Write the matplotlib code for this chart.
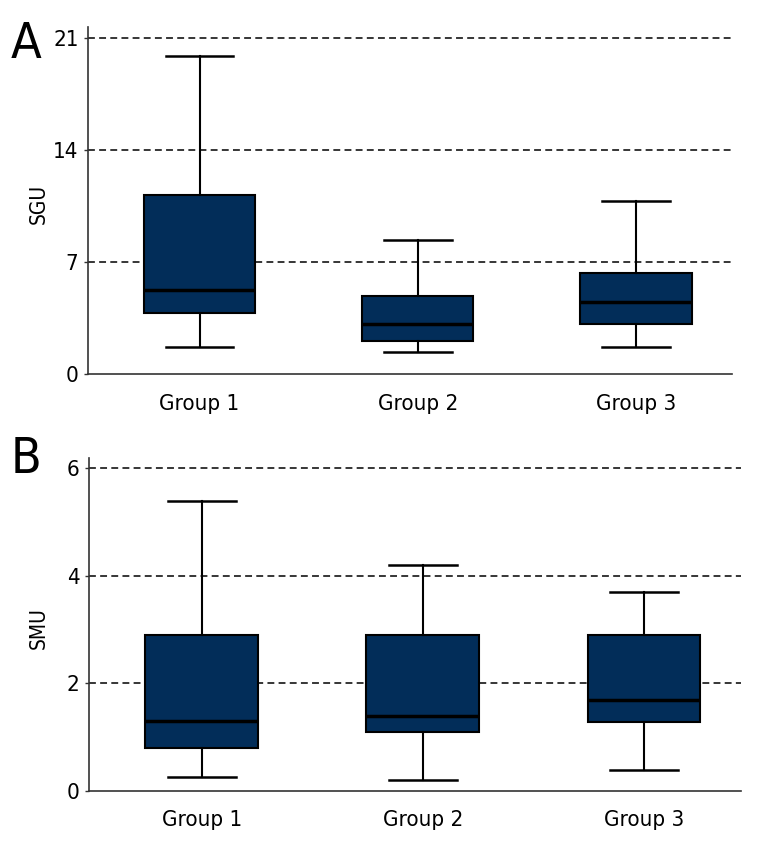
import matplotlib.pyplot as plt

plt.rcParams['font.family'] = ['DejaVu Sans']
plt.rcParams['font.stretch'] = 'condensed'

groups = ['Group 1', 'Group 2', 'Group 3']

# panel A (SGU): whisker low, Q1, median, Q3, whisker high
sgu_low = [1.7, 1.4, 1.7]
sgu_q1 = [3.8, 2.05, 3.1]
sgu_med = [5.25, 3.1, 4.5]
sgu_q3 = [11.2, 4.9, 6.3]
sgu_high = [19.9, 8.4, 10.8]
sgu_ticks = [0, 7, 14, 21]

# panel B (SMU)
smu_low = [0.26, 0.2, 0.39]
smu_q1 = [0.8, 1.1, 1.28]
smu_med = [1.3, 1.39, 1.69]
smu_q3 = [2.9, 2.9, 2.9]
smu_high = [5.39, 4.2, 3.7]
smu_ticks = [0, 2, 4, 6]

navy = '#022d59'


def make_stats(low, q1, med, q3, high):
    stats = []
    for i in range(len(groups)):
        stats.append({'whislo': low[i], 'q1': q1[i], 'med': med[i],
                      'q3': q3[i], 'whishi': high[i], 'fliers': [],
                      'label': groups[i]})
    return stats


def draw_panel(ax, stats, ticks, ylabel, ytop):
    ax.bxp(stats, positions=[1, 2, 3], widths=0.51, capwidths=0.31,
           showfliers=False, patch_artist=True,
           boxprops=dict(facecolor=navy, edgecolor='black', linewidth=1.5),
           medianprops=dict(color='black', linewidth=2.5),
           whiskerprops=dict(color='black', linewidth=1.5),
           capprops=dict(color='black', linewidth=1.8))
    ax.set_xlim(0.49, 3.44)
    ax.set_ylim(0, ytop)
    ax.set_yticks(ticks)
    for t in ticks[1:]:
        ax.axhline(t, color='black', linestyle=(0, (4.5, 2.8)), linewidth=1.1, zorder=0)
    ax.set_axisbelow(True)
    for s in ['top', 'right']:
        ax.spines[s].set_visible(False)
    for s in ['left', 'bottom']:
        ax.spines[s].set_color('#333333')
        ax.spines[s].set_linewidth(1.2)
    ax.tick_params(axis='y', length=3, width=1, color='#333333', labelsize=16, pad=4)
    ax.tick_params(axis='x', length=0, labelsize=16, pad=14)
    ax.set_ylabel(ylabel, fontsize=15)
    ax.yaxis.set_label_coords(-0.062, 0.49)


fig = plt.figure(figsize=(7.68, 8.64), dpi=100)
ax1 = fig.add_axes([0.115, 0.567, 0.838, 0.402])
ax2 = fig.add_axes([0.116, 0.0845, 0.849, 0.3855])

draw_panel(ax1, make_stats(sgu_low, sgu_q1, sgu_med, sgu_q3, sgu_high),
           sgu_ticks, 'SGU', 21.7)
draw_panel(ax2, make_stats(smu_low, smu_q1, smu_med, smu_q3, smu_high),
           smu_ticks, 'SMU', 6.19)

fig.text(0.034, 0.977, 'A', fontsize=36, ha='center', va='top')
fig.text(0.034, 0.496, 'B', fontsize=36, ha='center', va='top')

fig.savefig('out.png', dpi=100)
